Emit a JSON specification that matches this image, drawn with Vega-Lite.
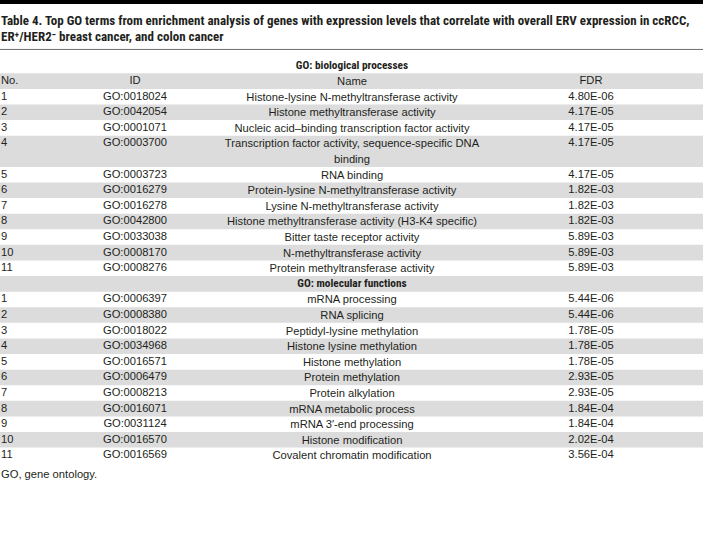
{
  "$schema": "https://vega.github.io/schema/vega-lite/v6.json",
  "width": 703,
  "height": 549,
  "autosize": {"type": "none"},
  "padding": 0,
  "background": "#ffffff",
  "config": {"view": {"stroke": null}},
  "datasets": {
    "rows": [
      {"k": 0, "r": 0, "n": 1, "section": "GO: biological processes"},
      {"k": 1, "r": 1, "n": 1, "no": "No.", "id": "ID", "name": "Name", "fdr": "FDR"},
      {"k": 2, "r": 2, "n": 1, "no": "1", "id": "GO:0018024", "name": "Histone-lysine N-methyltransferase activity", "fdr": "4.80E-06"},
      {"k": 3, "r": 3, "n": 1, "no": "2", "id": "GO:0042054", "name": "Histone methyltransferase activity", "fdr": "4.17E-05"},
      {"k": 4, "r": 4, "n": 1, "no": "3", "id": "GO:0001071", "name": "Nucleic acid–binding transcription factor activity", "fdr": "4.17E-05"},
      {"k": 5, "r": 5, "n": 2, "no": "4", "id": "GO:0003700", "name": ["Transcription factor activity, sequence-specific DNA", "binding"], "fdr": "4.17E-05"},
      {"k": 6, "r": 7, "n": 1, "no": "5", "id": "GO:0003723", "name": "RNA binding", "fdr": "4.17E-05"},
      {"k": 7, "r": 8, "n": 1, "no": "6", "id": "GO:0016279", "name": "Protein-lysine N-methyltransferase activity", "fdr": "1.82E-03"},
      {"k": 8, "r": 9, "n": 1, "no": "7", "id": "GO:0016278", "name": "Lysine N-methyltransferase activity", "fdr": "1.82E-03"},
      {"k": 9, "r": 10, "n": 1, "no": "8", "id": "GO:0042800", "name": "Histone methyltransferase activity (H3-K4 specific)", "fdr": "1.82E-03"},
      {"k": 10, "r": 11, "n": 1, "no": "9", "id": "GO:0033038", "name": "Bitter taste receptor activity", "fdr": "5.89E-03"},
      {"k": 11, "r": 12, "n": 1, "no": "10", "id": "GO:0008170", "name": "N-methyltransferase activity", "fdr": "5.89E-03"},
      {"k": 12, "r": 13, "n": 1, "no": "11", "id": "GO:0008276", "name": "Protein methyltransferase activity", "fdr": "5.89E-03"},
      {"k": 13, "r": 14, "n": 1, "section": "GO: molecular functions"},
      {"k": 14, "r": 15, "n": 1, "no": "1", "id": "GO:0006397", "name": "mRNA processing", "fdr": "5.44E-06"},
      {"k": 15, "r": 16, "n": 1, "no": "2", "id": "GO:0008380", "name": "RNA splicing", "fdr": "5.44E-06"},
      {"k": 16, "r": 17, "n": 1, "no": "3", "id": "GO:0018022", "name": "Peptidyl-lysine methylation", "fdr": "1.78E-05"},
      {"k": 17, "r": 18, "n": 1, "no": "4", "id": "GO:0034968", "name": "Histone lysine methylation", "fdr": "1.78E-05"},
      {"k": 18, "r": 19, "n": 1, "no": "5", "id": "GO:0016571", "name": "Histone methylation", "fdr": "1.78E-05"},
      {"k": 19, "r": 20, "n": 1, "no": "6", "id": "GO:0006479", "name": "Protein methylation", "fdr": "2.93E-05"},
      {"k": 20, "r": 21, "n": 1, "no": "7", "id": "GO:0008213", "name": "Protein alkylation", "fdr": "2.93E-05"},
      {"k": 21, "r": 22, "n": 1, "no": "8", "id": "GO:0016071", "name": "mRNA metabolic process", "fdr": "1.84E-04"},
      {"k": 22, "r": 23, "n": 1, "no": "9", "id": "GO:0031124", "name": "mRNA 3′-end processing", "fdr": "1.84E-04"},
      {"k": 23, "r": 24, "n": 1, "no": "10", "id": "GO:0016570", "name": "Histone modification", "fdr": "2.02E-04"},
      {"k": 24, "r": 25, "n": 1, "no": "11", "id": "GO:0016569", "name": "Covalent chromatin modification", "fdr": "3.56E-04"}
    ]
  },
  "data": {"name": "rows"},
  "layer": [
    {
      "transform": [
        {"filter": "datum.k % 2 == 1"},
        {"calculate": "datum.r - 0.5", "as": "top"},
        {"calculate": "datum.r + datum.n - 0.5", "as": "bot"}
      ],
      "mark": {"type": "rect", "color": "#dcdcdc"},
      "encoding": {
        "y": {"field": "top", "type": "quantitative", "axis": null, "scale": {"domain": [-4.2, 31.0], "reverse": true, "nice": false, "zero": false}},
        "y2": {"field": "bot"},
        "x": {"value": 0},
        "x2": {"value": "width"}
      }
    },
    {
      "data": {"values": [{}]},
      "mark": {"type": "rect", "color": "#000000"},
      "encoding": {
        "y": {"datum": -4.2, "type": "quantitative", "axis": null},
        "y2": {"datum": -3.95},
        "x": {"value": 0},
        "x2": {"value": "width"}
      }
    },
    {
      "data": {"values": [{}]},
      "mark": {"type": "rule", "color": "#6e6e6e", "strokeWidth": 1},
      "encoding": {
        "y": {"datum": -1.03, "type": "quantitative", "axis": null}
      }
    },
    {
      "data": {"values": [{}]},
      "mark": {
        "type": "text",
        "text": ["Table 4. Top GO terms from enrichment analysis of genes with expression levels that correlate with overall ERV expression in ccRCC,", "ER⁺/HER2⁻ breast cancer, and colon cancer"],
        "align": "left", "baseline": "top", "dy": -4, "lineHeight": 16,
        "font": "Roboto Condensed, DejaVu Sans Condensed, Liberation Sans", "fontWeight": "bold", "fontSize": 13, "color": "#231f20"
      },
      "encoding": {
        "x": {"datum": 0, "type": "quantitative", "axis": null, "scale": {"domain": [0, 1, 2, 3], "range": [1, 135, 352, 591], "nice": false, "zero": false}},
        "y": {"datum": -3, "type": "quantitative", "axis": null}
      }
    },
    {
      "transform": [{"filter": "isValid(datum.section)"}],
      "mark": {"type": "text", "align": "center", "baseline": "middle", "font": "Roboto Condensed, DejaVu Sans Condensed, Liberation Sans", "fontWeight": "bold", "fontSize": 11.3, "color": "#231f20"},
      "encoding": {
        "x": {"datum": 2, "type": "quantitative", "axis": null},
        "y": {"field": "r", "type": "quantitative", "axis": null},
        "text": {"field": "section", "type": "nominal"}
      }
    },
    {
      "transform": [{"filter": "isValid(datum.no)"}],
      "mark": {"type": "text", "align": "left", "baseline": "middle", "font": "Liberation Sans", "fontSize": 11.2, "color": "#231f20"},
      "encoding": {
        "x": {"datum": 0, "type": "quantitative", "axis": null},
        "y": {"field": "r", "type": "quantitative", "axis": null},
        "text": {"field": "no", "type": "nominal"}
      }
    },
    {
      "transform": [{"filter": "isValid(datum.id)"}],
      "mark": {"type": "text", "align": "center", "baseline": "middle", "font": "Liberation Sans", "fontSize": 11.2, "color": "#231f20"},
      "encoding": {
        "x": {"datum": 1, "type": "quantitative", "axis": null},
        "y": {"field": "r", "type": "quantitative", "axis": null},
        "text": {"field": "id", "type": "nominal"}
      }
    },
    {
      "transform": [{"filter": "isValid(datum.name)"}],
      "mark": {"type": "text", "align": "center", "baseline": "top", "dy": -5, "lineHeight": 15.6, "font": "Liberation Sans", "fontSize": 11.2, "color": "#231f20"},
      "encoding": {
        "x": {"datum": 2, "type": "quantitative", "axis": null},
        "y": {"field": "r", "type": "quantitative", "axis": null},
        "text": {"field": "name", "type": "nominal"}
      }
    },
    {
      "transform": [{"filter": "isValid(datum.fdr)"}],
      "mark": {"type": "text", "align": "center", "baseline": "middle", "font": "Liberation Sans", "fontSize": 11.2, "color": "#231f20"},
      "encoding": {
        "x": {"datum": 3, "type": "quantitative", "axis": null},
        "y": {"field": "r", "type": "quantitative", "axis": null},
        "text": {"field": "fdr", "type": "nominal"}
      }
    },
    {
      "data": {"values": [{}]},
      "mark": {"type": "text", "text": "GO, gene ontology.", "align": "left", "baseline": "middle", "font": "Liberation Sans", "fontSize": 11.2, "color": "#231f20"},
      "encoding": {
        "x": {"datum": 0, "type": "quantitative", "axis": null},
        "y": {"datum": 26.25, "type": "quantitative", "axis": null}
      }
    }
  ]
}
